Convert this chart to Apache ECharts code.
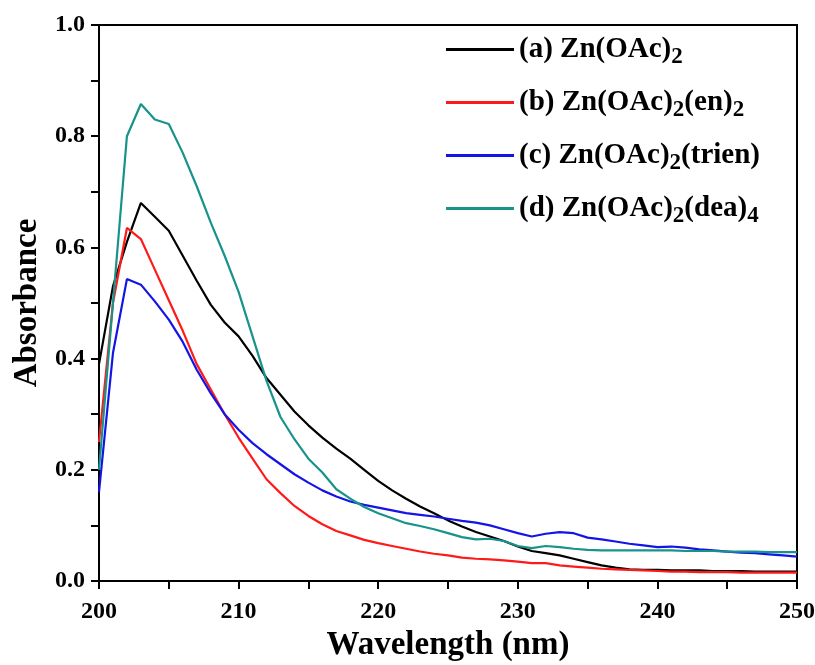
<!DOCTYPE html>
<html><head><meta charset="utf-8">
<script src="https://cdn.jsdelivr.net/npm/echarts@6/dist/echarts.min.js"></script>
<style>html,body{margin:0;padding:0;background:#fff}#c{width:815px;height:665px}</style>
</head><body><div id="c"></div>
<script>
var wavelengths = [200,201,202,203,204,205,206,207,208,209,210,211,212,213,214,215,216,217,218,219,220,221,222,223,224,225,226,227,228,229,230,231,232,233,234,235,236,237,238,239,240,241,242,243,244,245,246,247,248,249,250];
var seriesA = [0.39,0.53,0.61,0.68,0.655,0.63,0.585,0.54,0.497,0.465,0.44,0.405,0.365,0.335,0.305,0.28,0.258,0.238,0.22,0.2,0.18,0.163,0.148,0.134,0.122,0.109,0.098,0.088,0.08,0.072,0.062,0.054,0.05,0.046,0.04,0.034,0.028,0.024,0.021,0.02,0.02,0.019,0.019,0.019,0.018,0.018,0.018,0.017,0.017,0.017,0.017];
var seriesB = [0.25,0.5,0.635,0.615,0.56,0.505,0.45,0.39,0.345,0.3,0.258,0.22,0.183,0.158,0.135,0.117,0.102,0.09,0.082,0.074,0.068,0.063,0.058,0.053,0.049,0.046,0.042,0.04,0.039,0.037,0.035,0.032,0.032,0.028,0.026,0.024,0.022,0.021,0.02,0.019,0.018,0.017,0.017,0.016,0.016,0.016,0.015,0.015,0.015,0.015,0.015];
var seriesC = [0.16,0.41,0.543,0.533,0.503,0.47,0.43,0.38,0.338,0.3,0.272,0.248,0.228,0.21,0.192,0.177,0.163,0.152,0.143,0.137,0.132,0.127,0.122,0.119,0.116,0.112,0.108,0.105,0.1,0.093,0.086,0.08,0.085,0.088,0.086,0.078,0.075,0.071,0.067,0.064,0.061,0.062,0.06,0.057,0.055,0.053,0.051,0.05,0.048,0.046,0.044];
var seriesD = [0.2,0.5,0.8,0.858,0.83,0.822,0.77,0.71,0.645,0.585,0.52,0.44,0.36,0.295,0.255,0.22,0.195,0.165,0.148,0.133,0.122,0.113,0.104,0.099,0.093,0.086,0.079,0.075,0.076,0.072,0.063,0.059,0.063,0.061,0.058,0.056,0.055,0.055,0.055,0.055,0.055,0.055,0.054,0.054,0.054,0.053,0.053,0.053,0.052,0.052,0.052];
var seriesNames = ['(a) Zn(OAc)2','(b) Zn(OAc)2(en)2','(c) Zn(OAc)2(trien)','(d) Zn(OAc)2(dea)4'];
var legendRich = ['(a) Zn(OAc){s|2}','(b) Zn(OAc){s|2}(en){s|2}','(c) Zn(OAc){s|2}(trien)','(d) Zn(OAc){s|2}(dea){s|4}'];
var colors = ['#000000','#ff1a1a','#1414e6','#17938b'];
var xTicks = [200,210,220,230,240,250];
var yTicks = [0.0,0.2,0.4,0.6,0.8,1.0];

var allSeries = [seriesA, seriesB, seriesC, seriesD];
var font = 'Liberation Serif';
var chart = echarts.init(document.getElementById('c'));
chart.setOption({
  animation: false,
  backgroundColor: '#fff',
  grid: {left: 99, right: 18, top: 25, bottom: 84, containLabel: false, outerBoundsMode: 'none',
    show: true, borderColor: '#000', borderWidth: 2, backgroundColor: 'transparent'},
  xAxis: {
    type: 'value', min: xTicks[0], max: xTicks[xTicks.length-1], interval: 10,
    name: 'Wavelength (nm)', nameLocation: 'middle', nameGap: 36,
    nameTextStyle: {fontFamily: font, fontWeight: 'bold', fontSize: 33, color: '#000'},
    axisLine: {lineStyle: {color: '#000', width: 2}},
    axisTick: {show: true, inside: false, length: 8, lineStyle: {color: '#000', width: 2}},
    minorTick: {show: true, splitNumber: 2, length: 8, lineStyle: {color: '#000', width: 2}},
    splitLine: {show: false},
    axisLabel: {fontFamily: font, fontWeight: 'bold', fontSize: 24, color: '#000', margin: 19}
  },
  yAxis: {
    type: 'value', min: yTicks[0], max: yTicks[yTicks.length-1], interval: 0.2,
    name: 'Absorbance', nameLocation: 'middle', nameGap: 54,
    nameTextStyle: {fontFamily: font, fontWeight: 'bold', fontSize: 33, color: '#000'},
    axisLine: {lineStyle: {color: '#000', width: 2}},
    axisTick: {show: true, inside: false, length: 8, lineStyle: {color: '#000', width: 2}},
    minorTick: {show: true, splitNumber: 2, length: 8, lineStyle: {color: '#000', width: 2}},
    splitLine: {show: false},
    axisLabel: {fontFamily: font, fontWeight: 'bold', fontSize: 24, color: '#000', margin: 14,
      formatter: function(v){ return v.toFixed(1); }}
  },
  legend: {
    orient: 'vertical', left: 441, top: 30, itemWidth: 68, itemHeight: 3, itemGap: 19,
    icon: 'rect',
    data: seriesNames,
    formatter: function(name){ return legendRich[seriesNames.indexOf(name)]; },
    textStyle: {fontFamily: font, fontWeight: 'bold', fontSize: 29, color: '#000',
      rich: {s: {fontFamily: font, fontWeight: 'bold', fontSize: 23, color: '#000', verticalAlign: 'top', padding: [16,0,0,0]}}}
  },
  series: allSeries.map(function(s, k){
    return {
      name: seriesNames[k], type: 'line', showSymbol: false, symbol: 'none',
      lineStyle: {color: colors[k], width: 2.2}, itemStyle: {color: colors[k]},
      data: wavelengths.map(function(w, i){ return [w, s[i]]; })
    };
  })
});
</script></body></html>
